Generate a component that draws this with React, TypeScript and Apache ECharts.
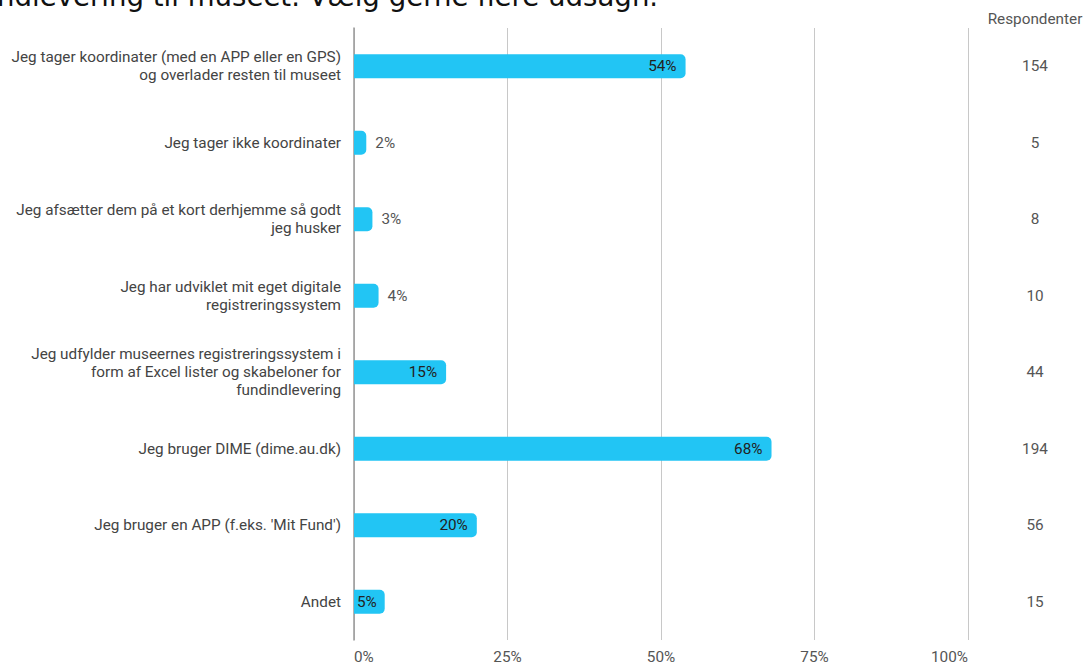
import React, { useEffect, useRef } from "react";
import * as echarts from "echarts";

const categories: string[] = [
  "Jeg tager koordinater (med en APP eller en GPS)\nog overlader resten til museet",
  "Jeg tager ikke koordinater",
  "Jeg afsætter dem på et kort derhjemme så godt\njeg husker",
  "Jeg har udviklet mit eget digitale\nregistreringssystem",
  "Jeg udfylder museernes registreringssystem i\nform af Excel lister og skabeloner for\nfundindlevering",
  "Jeg bruger DIME (dime.au.dk)",
  "Jeg bruger en APP (f.eks. 'Mit Fund')",
  "Andet",
];
const percents: number[] = [54, 2, 3, 4, 15, 68, 20, 5];
const respondents: number[] = [154, 5, 8, 10, 44, 194, 56, 15];
const labelPlacement: string[] = ["in", "out", "out", "out", "in", "in", "in", "left"];
const xTicks: number[] = [0, 25, 50, 75, 100];
const titleText = "ndlevering til museet. Vælg gerne flere udsagn.";
const rightHeader = "Respondenter";

const FONT = "Roboto, 'Noto Sans', sans-serif";
const FS = 15.3;

export default function App() {
  const ref = useRef<HTMLDivElement>(null);
  useEffect(() => {
    if (!ref.current) return;
    const chart = echarts.init(ref.current, undefined, { renderer: "svg" });
    const data = percents.map((v, i) => {
      const p = labelPlacement[i];
      let label: any;
      if (p === "in") label = { position: "insideRight", distance: 9, color: "#222" };
      else if (p === "left") label = { position: "insideLeft", distance: 3, color: "#222" };
      else label = { position: "right", distance: 9, color: "#555" };
      return { value: v, label };
    });
    chart.setOption({
      animation: false,
      backgroundColor: "#ffffff",
      textStyle: { fontFamily: FONT },
      grid: { left: 354, right: 115, top: 28, bottom: 23, containLabel: false },
      xAxis: {
        type: "value",
        min: 0,
        max: 100,
        interval: 25,
        axisLine: { show: false },
        axisTick: { show: false },
        splitLine: { show: true, lineStyle: { color: "#c8c8c8", width: 1 } },
        axisLabel: {
          formatter: (v: number) => (xTicks.includes(v) ? v + "%" : ""),
          color: "#555",
          fontSize: FS,
          fontFamily: FONT,
          margin: 9,
          alignMinLabel: "left",
          alignMaxLabel: "right",
        },
      },
      yAxis: [
        {
          type: "category",
          data: categories,
          inverse: true,
          axisLine: { show: true, lineStyle: { color: "#999", width: 1.5 } },
          axisTick: { show: false },
          axisLabel: {
            color: "#444",
            fontSize: FS,
            fontFamily: FONT,
            margin: 13,
            align: "right",
            lineHeight: 18,
          },
        },
        {
          type: "category",
          data: respondents.map(String),
          inverse: true,
          position: "right",
          axisLine: { show: false },
          axisTick: { show: false },
          axisLabel: {
            color: "#555",
            fontSize: FS,
            fontFamily: FONT,
            margin: 67,
            align: "center",
          },
        },
      ],
      series: [
        {
          type: "bar",
          yAxisIndex: 0,
          data,
          barWidth: 24,
          itemStyle: { color: "#22c5f4", borderRadius: [0, 5, 5, 0] },
          label: {
            show: true,
            formatter: "{c}%",
            fontSize: FS,
            fontFamily: FONT,
          },
        },
      ],
      graphic: [
        {
          type: "text",
          x: -3,
          y: 10,
          style: {
            text: titleText,
            fontFamily: "'DejaVu Sans', sans-serif",
            fontSize: 27.6,
            fill: "#111",
            verticalAlign: "bottom",
            align: "left",
          },
        },
        {
          type: "text",
          x: 1035,
          y: 19,
          style: {
            text: rightHeader,
            fontFamily: FONT,
            fontSize: FS,
            fill: "#555",
            align: "center",
            verticalAlign: "middle",
          },
        },
      ],
    });
    return () => chart.dispose();
  }, []);
  return (
    <div
      ref={ref}
      style={{ position: "fixed", left: 0, top: 0, width: 1083, height: 664 }}
    />
  );
}
